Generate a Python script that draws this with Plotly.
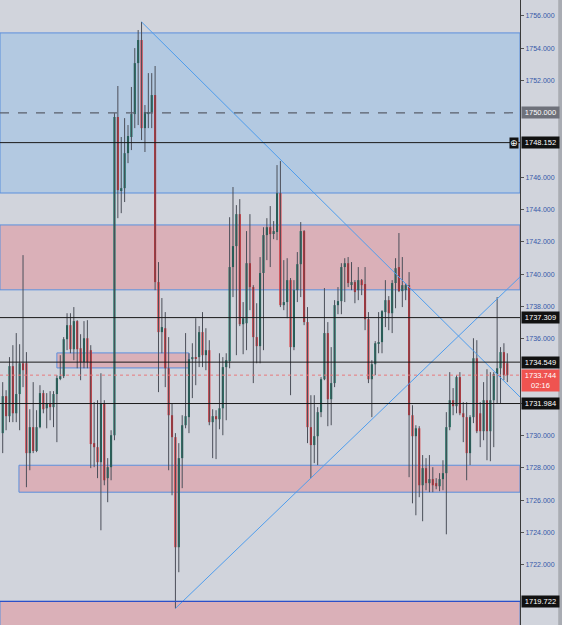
import plotly.graph_objects as go

# candle data (150 bars, oldest first)
opens = [
    1730.15, 1732.44, 1731.20, 1734.30, 1731.38, 1732.57, 1734.48, 1734.48, 1728.91, 1730.52,
    1729.04, 1730.52, 1732.63, 1731.69, 1732.00, 1731.76, 1732.57, 1733.56, 1733.68, 1735.97,
    1736.84, 1735.35, 1737.09, 1735.41, 1734.55, 1736.03, 1735.29, 1729.53, 1729.28, 1728.35,
    1732.00, 1727.36, 1728.04, 1730.02, 1749.74, 1745.21, 1745.33, 1747.50, 1748.50, 1749.92,
    1753.08, 1754.51, 1749.05, 1749.92, 1750.05, 1751.10, 1739.51, 1736.41, 1736.65, 1734.17,
    1731.26, 1729.90, 1723.08, 1728.60, 1730.64, 1731.14, 1734.73, 1734.86, 1734.86, 1736.41,
    1734.98, 1735.29, 1730.83, 1731.20, 1731.01, 1731.69, 1734.24, 1734.61, 1740.44, 1741.74,
    1743.72, 1736.90, 1736.96, 1740.68, 1739.20, 1736.10, 1735.54, 1740.07, 1742.42, 1742.91,
    1742.55, 1742.61, 1745.02, 1738.08, 1738.27, 1739.63, 1735.48, 1739.01, 1740.62, 1742.67,
    1737.03, 1730.52, 1729.41, 1729.96, 1731.45, 1733.49, 1736.35, 1732.25, 1733.25, 1738.08,
    1738.33, 1740.44, 1740.68, 1739.39, 1739.51, 1739.01, 1739.63, 1739.39, 1737.21, 1733.49,
    1734.42, 1735.72, 1735.79, 1737.65, 1738.39, 1737.58, 1739.45, 1740.44, 1738.95, 1739.01,
    1739.32, 1731.26, 1729.96, 1730.45, 1726.92, 1727.98, 1727.05, 1727.30, 1727.05, 1726.86,
    1727.30, 1727.67, 1730.52, 1732.19, 1731.82, 1733.62, 1731.38, 1731.14, 1728.91, 1731.14,
    1734.79, 1731.38, 1730.27, 1732.19, 1730.27, 1732.19, 1733.81, 1734.17, 1735.17, 1734.48,
]
highs = [
    1733.31, 1732.81, 1734.86, 1735.60, 1736.35, 1735.66, 1741.18, 1735.17, 1731.63, 1733.31,
    1731.57, 1733.12, 1732.81, 1732.63, 1732.75, 1732.75, 1733.74, 1734.98, 1736.10, 1737.58,
    1737.58, 1737.96, 1737.15, 1736.28, 1737.09, 1737.15, 1735.60, 1732.07, 1732.19, 1733.86,
    1732.19, 1728.60, 1730.33, 1749.98, 1751.66, 1748.50, 1749.67, 1749.24, 1751.60, 1754.01,
    1755.13, 1755.63, 1750.48, 1752.46, 1752.46, 1752.90, 1740.75, 1738.52, 1737.65, 1736.10,
    1732.00, 1730.15, 1729.53, 1731.26, 1736.35, 1735.10, 1735.72, 1737.27, 1736.78, 1737.65,
    1736.65, 1735.91, 1731.63, 1731.57, 1735.10, 1734.86, 1735.10, 1743.53, 1745.40, 1744.28,
    1744.65, 1738.27, 1742.67, 1743.72, 1739.32, 1738.20, 1741.06, 1742.91, 1743.47, 1744.22,
    1743.29, 1746.76, 1747.01, 1740.87, 1740.99, 1739.76, 1739.63, 1741.37, 1743.23, 1742.73,
    1737.96, 1732.50, 1732.50, 1731.76, 1733.62, 1739.14, 1737.03, 1735.48, 1738.39, 1739.20,
    1740.68, 1740.99, 1741.06, 1740.75, 1739.63, 1740.44, 1739.70, 1740.44, 1737.65, 1734.67,
    1735.85, 1737.65, 1737.77, 1739.63, 1738.64, 1739.63, 1740.99, 1742.55, 1741.06, 1739.45,
    1740.13, 1731.88, 1730.64, 1730.58, 1728.79, 1728.60, 1728.79, 1728.04, 1727.36, 1727.67,
    1728.47, 1731.45, 1733.93, 1732.94, 1733.74, 1733.93, 1732.07, 1732.07, 1731.26, 1736.03,
    1735.91, 1732.07, 1733.31, 1734.11, 1733.93, 1733.93, 1738.58, 1735.48, 1735.72, 1735.10,
]
lows = [
    1728.91, 1730.33, 1730.83, 1730.83, 1730.83, 1730.33, 1733.00, 1726.80, 1727.85, 1728.91,
    1728.97, 1730.45, 1731.38, 1730.45, 1730.95, 1730.52, 1729.59, 1733.43, 1733.56, 1735.29,
    1735.10, 1734.67, 1734.17, 1733.43, 1734.17, 1734.17, 1727.98, 1728.04, 1727.36, 1724.13,
    1726.92, 1725.87, 1727.23, 1729.71, 1743.47, 1743.78, 1744.47, 1746.88, 1747.69, 1749.05,
    1749.24, 1748.31, 1747.57, 1749.05, 1749.05, 1739.01, 1732.69, 1735.10, 1733.00, 1727.85,
    1726.30, 1719.29, 1721.53, 1726.74, 1730.45, 1730.15, 1732.32, 1733.12, 1734.24, 1734.24,
    1734.05, 1730.64, 1728.60, 1728.54, 1730.39, 1730.02, 1730.95, 1734.17, 1738.58, 1734.98,
    1736.78, 1735.04, 1735.29, 1737.77, 1733.25, 1734.48, 1734.48, 1735.29, 1740.87, 1740.44,
    1742.17, 1742.11, 1737.96, 1737.77, 1737.27, 1732.50, 1735.29, 1738.27, 1738.58, 1736.84,
    1729.53, 1727.36, 1728.29, 1728.17, 1731.14, 1733.43, 1730.58, 1730.64, 1733.00, 1737.52,
    1737.52, 1738.27, 1739.20, 1739.01, 1738.20, 1738.39, 1738.70, 1736.53, 1733.25, 1731.14,
    1733.74, 1735.10, 1735.10, 1736.72, 1736.53, 1736.35, 1737.89, 1738.89, 1737.96, 1738.39,
    1727.42, 1725.80, 1725.06, 1726.18, 1724.69, 1726.61, 1726.49, 1726.49, 1726.67, 1726.55,
    1726.61, 1723.88, 1730.33, 1731.26, 1731.38, 1731.26, 1729.59, 1727.23, 1728.17, 1730.77,
    1730.15, 1729.28, 1729.71, 1728.47, 1728.41, 1729.28, 1732.00, 1732.00, 1733.43, 1733.31,
]
closes = [
    1732.44, 1731.20, 1734.30, 1731.38, 1732.57, 1734.48, 1734.05, 1728.91, 1730.52, 1729.04,
    1730.52, 1732.63, 1731.63, 1732.00, 1731.76, 1732.57, 1733.56, 1733.68, 1735.97, 1736.84,
    1735.35, 1737.09, 1735.35, 1734.55, 1736.03, 1734.55, 1729.47, 1729.28, 1728.35, 1732.00,
    1727.23, 1728.04, 1730.02, 1749.74, 1745.21, 1745.33, 1747.50, 1748.56, 1749.92, 1753.08,
    1754.51, 1749.05, 1750.05, 1750.05, 1751.10, 1739.51, 1736.41, 1736.72, 1734.17, 1731.26,
    1729.90, 1723.08, 1728.60, 1730.64, 1731.20, 1734.73, 1734.86, 1734.79, 1736.41, 1734.98,
    1735.29, 1730.83, 1731.20, 1731.01, 1731.69, 1734.24, 1734.67, 1740.44, 1741.74, 1743.72,
    1736.90, 1737.27, 1740.68, 1739.20, 1736.10, 1735.54, 1740.07, 1742.42, 1742.91, 1742.48,
    1742.67, 1745.02, 1738.08, 1738.27, 1739.63, 1735.48, 1739.01, 1740.62, 1742.67, 1737.03,
    1730.52, 1729.41, 1729.96, 1731.45, 1733.49, 1736.35, 1732.25, 1733.25, 1738.08, 1738.33,
    1740.44, 1740.68, 1739.45, 1739.51, 1738.89, 1739.63, 1739.32, 1737.21, 1733.49, 1734.42,
    1735.72, 1735.79, 1737.71, 1738.39, 1737.58, 1739.45, 1740.37, 1738.95, 1739.32, 1739.32,
    1731.26, 1729.96, 1730.45, 1726.92, 1727.98, 1727.05, 1727.30, 1726.92, 1726.86, 1727.30,
    1727.67, 1730.52, 1732.19, 1731.82, 1733.62, 1731.38, 1731.14, 1728.91, 1731.14, 1734.79,
    1730.27, 1730.27, 1732.19, 1730.27, 1732.19, 1733.81, 1734.17, 1735.17, 1733.74, 1733.74,
]

# zones: (bottom, top, first bar or None for full width)
blue_zone = (1745.03, 1754.95)
red_zones = [(1739.03, 1743.05, None), (1734.19, 1735.12, 16.0), (1726.49, 1728.16, 4.8), (1718.0, 1719.72, None)]
small_zone_end = 55.0

# horizontal levels
dashed_level = 1750.000
black_levels = [1748.152, 1737.309, 1734.549, 1731.984]
bottom_level = 1719.722
last_price = 1733.744
countdown = "02:16"

# trend lines: (bar, price) anchors
trend_down = [(41, 1755.63), (152.75, 1732.39)]
trend_up = [(51, 1719.29), (152.75, 1739.83)]

# axis ticks that stay visible (the others sit under the price labels)
tick_vals = [1722, 1724, 1726, 1728, 1730, 1732, 1736, 1738, 1740, 1742, 1744, 1746, 1752, 1754, 1756]

BG = "#d1d4dc"
GREEN = "#0a6b57"
RED = "#e2262b"
ZONE_LINE = "#5b8fdc"

n = len(opens)
idx = list(range(n))

wx, wy = [], []
for i in idx:
    wx += [i, i, None]
    wy += [lows[i], highs[i], None]

body_base = [min(o, c) for o, c in zip(opens, closes)]
body_len = [max(abs(c - o), 0.05) for o, c in zip(opens, closes)]
body_col = [GREEN if c >= o else RED for o, c in zip(opens, closes)]

fig = go.Figure()
fig.add_trace(go.Scatter(x=wx, y=wy, mode="lines", line=dict(color="#4b4f59", width=1), hoverinfo="skip"))
fig.add_trace(go.Bar(x=idx, y=body_len, base=body_base, width=0.62,
                     marker=dict(color=body_col, line=dict(width=0))))

for pts in (trend_down, trend_up):
    fig.add_trace(go.Scatter(x=[p[0] for p in pts], y=[p[1] for p in pts], mode="lines",
                             line=dict(color="#4f9ded", width=1), hoverinfo="skip"))

shapes = []
shapes.append(dict(type="rect", xref="paper", x0=0, x1=1, yref="y", y0=blue_zone[0], y1=blue_zone[1],
                   fillcolor="#b3c9e1", line=dict(color=ZONE_LINE, width=1), layer="below"))
for lo, hi, start in red_zones:
    if start is None:
        xr, x0, x1 = "paper", 0, 1
    elif start == 16.0:
        xr, x0, x1 = "x", start, small_zone_end
    else:
        xr, x0, x1 = "x", start, 152.75
    shapes.append(dict(type="rect", xref=xr, x0=x0, x1=x1, yref="y", y0=lo, y1=hi,
                       fillcolor="#dab0b8", line=dict(color=ZONE_LINE, width=1), layer="below"))

shapes.append(dict(type="line", xref="paper", x0=0, x1=1, yref="y", y0=dashed_level, y1=dashed_level,
                   line=dict(color="#5a5f6b", width=1.2, dash="dash")))
for lv in black_levels:
    shapes.append(dict(type="line", xref="paper", x0=0, x1=1, yref="y", y0=lv, y1=lv,
                       line=dict(color="#1a1a1a", width=1)))
shapes.append(dict(type="line", xref="paper", x0=0, x1=1, yref="y", y0=bottom_level, y1=bottom_level,
                   line=dict(color="#2b50c8", width=1.2)))
shapes.append(dict(type="line", xref="paper", x0=0, x1=1, yref="y", y0=last_price, y1=last_price,
                   line=dict(color="#e8787c", width=1, dash="dot")))
# right edge of the window
shapes.append(dict(type="rect", xref="paper", x0=1.0735, x1=1.09, yref="paper", y0=0, y1=1,
                   fillcolor="#a9acb3", line=dict(width=0)))

annotations = []
lab_font = dict(family="Liberation Sans", size=7.5, color="white")


def price_label(y, text, bg, shift=0):
    annotations.append(dict(x=1, xref="paper", xanchor="left", xshift=1, y=y, yref="y", yshift=shift,
                            text=text, showarrow=False, bgcolor=bg, font=lab_font, width=35,
                            align="center", borderpad=1))


price_label(dashed_level, "%.3f" % dashed_level, "#6e717a")
for lv in black_levels:
    price_label(lv, "%.3f" % lv, "#111111")
price_label(bottom_level, "%.3f" % bottom_level, "#111111")
annotations.append(dict(x=1, xref="paper", xanchor="left", xshift=1, y=last_price, yref="y", yanchor="top",
                        yshift=6, text="%.3f<br>%s" % (last_price, countdown), showarrow=False,
                        bgcolor="#ef5350", font=lab_font, width=35, align="center", borderpad=1))
annotations.append(dict(x=1, xref="paper", xanchor="right", xshift=-1, y=black_levels[0], yref="y",
                        text="⊕", showarrow=False, bgcolor="#111111",
                        font=dict(family="DejaVu Sans", size=9, color="white"), borderpad=0))

fig.update_layout(
    width=562, height=625,
    margin=dict(l=0, r=42, t=0, b=0, autoexpand=False),
    paper_bgcolor=BG, plot_bgcolor=BG,
    showlegend=False, barmode="overlay",
    shapes=shapes, annotations=annotations,
    xaxis=dict(visible=False, range=[-0.8, 152.75], fixedrange=True),
    yaxis=dict(side="right", range=[1718.26, 1756.99], showgrid=False, zeroline=False, automargin=False,
               tickvals=tick_vals, ticktext=["%.3f" % v for v in tick_vals],
               ticks="outside", ticklen=3, tickcolor="#555", showline=True, linecolor="#3a3a3a",
               linewidth=1, tickfont=dict(family="Liberation Sans", size=7, color="#3559a8")),
)

# drop the page's default body margin so the chart sits at the window's corner
fig.write_html("out.html", config={"displayModeBar": False},
               post_script="document.body.style.margin='0';document.body.style.background='%s';" % BG)
